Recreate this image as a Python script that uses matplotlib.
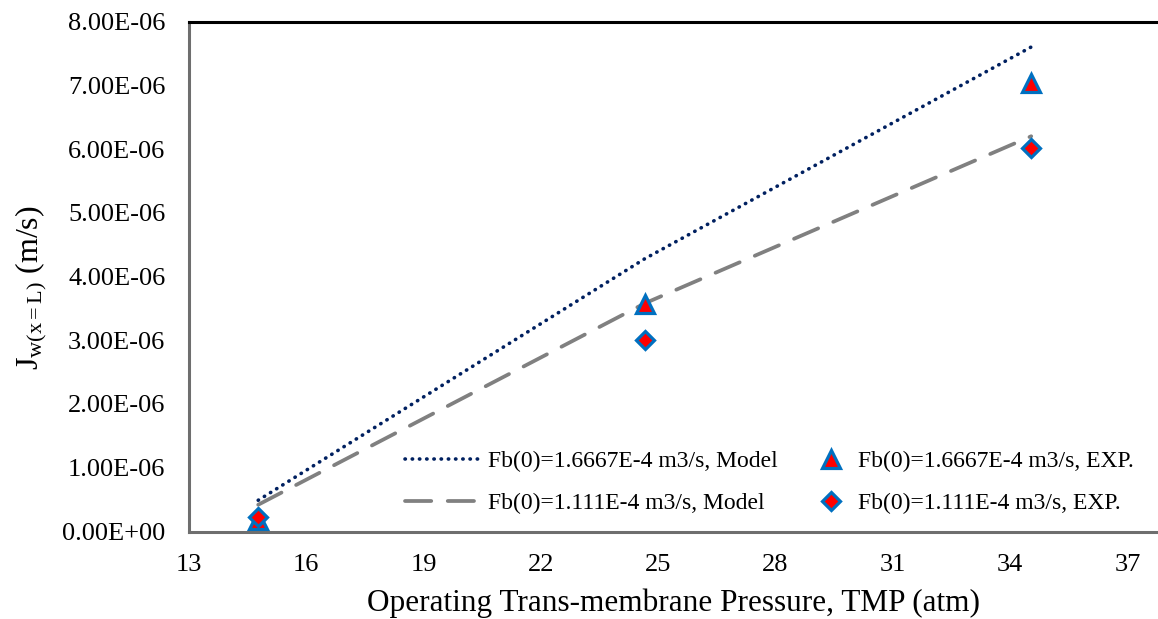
import matplotlib
matplotlib.use("Agg")
import matplotlib.pyplot as plt
from matplotlib.ticker import FuncFormatter, FixedLocator, MultipleLocator

plt.rcParams['font.family'] = ['Liberation Serif', 'DejaVu Serif']
plt.rcParams['mathtext.fontset'] = 'custom'
plt.rcParams['mathtext.rm'] = 'Liberation Serif'
plt.rcParams['mathtext.it'] = 'Liberation Serif:italic'

# --- data ---
tmp = [14.77, 24.66, 34.54]
model_high = [0.49e-6, 4.28e-6, 7.60e-6]   # Fb(0)=1.6667E-4, model
model_low = [0.42e-6, 3.58e-6, 6.20e-6]    # Fb(0)=1.111E-4, model
exp_high = [0.18e-6, 3.57e-6, 7.03e-6]     # Fb(0)=1.6667E-4, EXP.
exp_low = [0.22e-6, 3.01e-6, 6.02e-6]      # Fb(0)=1.111E-4, EXP.
x_ticks = [13, 16, 19, 22, 25, 28, 31, 34, 37]

labels = ["Fb(0)=1.6667E-4 m3/s, Model",
          "Fb(0)=1.111E-4 m3/s, Model",
          "Fb(0)=1.6667E-4 m3/s, EXP.",
          "Fb(0)=1.111E-4 m3/s, EXP."]

fig = plt.figure(figsize=(11.58, 6.19), dpi=100)
ax = fig.add_axes([189 / 1158, 1 - 531.5 / 619, 1 - 189 / 1158, (531.5 - 21.5) / 619])

l1, = ax.plot(tmp, model_high, color='#002060', lw=2.6,
              linestyle=(0, (0.1, 1.9)), dash_capstyle='round', label=labels[0])
l2, = ax.plot(tmp, model_low, color='#808080', lw=2.7,
              linestyle=(0, (7, 4.4)), dash_capstyle='round', label=labels[1])
m1, = ax.plot(tmp, exp_high, linestyle='none', marker='^', ms=13,
              mfc='red', mec='#0070C0', mew=2.3, label=labels[2])
m2, = ax.plot(tmp, exp_low, linestyle='none', marker='D', ms=9.5,
              mfc='red', mec='#0070C0', mew=2.3, label=labels[3])

ax.set_xlim(13, 13 + (1158 - 189) / 39.1)
ax.set_ylim(0, 8e-6)
ax.xaxis.set_major_locator(FixedLocator(x_ticks))
ax.yaxis.set_major_locator(MultipleLocator(1e-6))
ax.yaxis.set_major_formatter(FuncFormatter(lambda v, p: f"{v:.2E}"))
ax.tick_params(length=0, labelsize=19)
ax.tick_params(axis='y', pad=17)
ax.tick_params(axis='x', pad=16)

ax.spines['right'].set_visible(False)
ax.spines['top'].set_color('black')
ax.spines['top'].set_linewidth(2.2)
for s in ('left', 'bottom'):
    ax.spines[s].set_color('#6e6e6e')
    ax.spines[s].set_linewidth(2.2)

ax.set_xlabel("Operating Trans-membrane Pressure, TMP (atm)", fontsize=22.5, labelpad=9)
ax.set_ylabel(r"J$_{\mathrm{w(x=L)}}$ (m/s)", fontsize=23)
ax.yaxis.set_label_coords(-0.144, 0.478)

leg1 = fig.legend(handles=[l1, l2], loc='center left', frameon=False, fontsize=17,
                  bbox_to_anchor=(405 / 1158, 1 - 482.5 / 619), handlelength=3.1,
                  handletextpad=0.4, labelspacing=0.85, borderpad=0, borderaxespad=0)
leg2 = fig.legend(handles=[m1, m2], loc='center left', frameon=False, fontsize=17,
                  bbox_to_anchor=(812 / 1158, 1 - 482.5 / 619), handlelength=1.6,
                  handletextpad=0.35, labelspacing=0.85, borderpad=0, borderaxespad=0)

fig.savefig("out.png", dpi=100)
